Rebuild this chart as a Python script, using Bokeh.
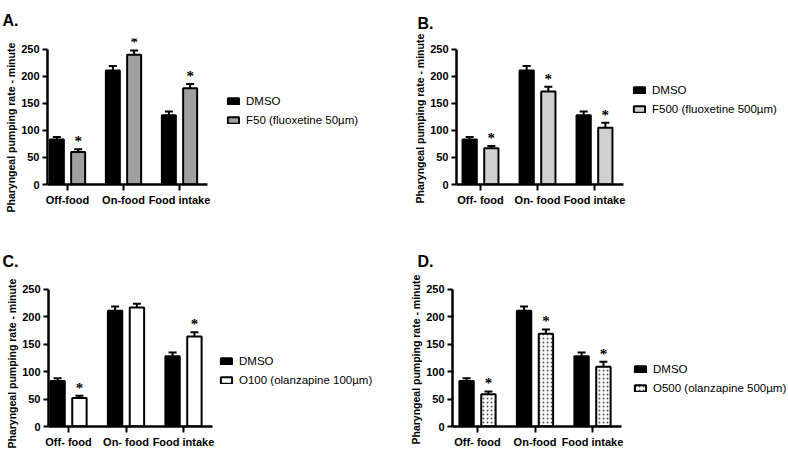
from bokeh.plotting import figure
from bokeh.models import (Range1d, FixedTicker, Whisker, ColumnDataSource,
                          Legend, LegendItem, TeeHead, LabelSet, Title)
from bokeh.transform import dodge
from bokeh.layouts import column, row
from bokeh.embed import file_html
from bokeh.resources import INLINE

# ---------------- data ----------------
y_ticks = [0, 50, 100, 150, 200, 250]
y_label = "Pharyngeal pumping rate - minute"
dmso_name = "DMSO"

dmso = [83, 211, 128]
dmso_err = [5, 8, 7]

cats_a = ["Off-food", "On-food", "Food intake"]
f50 = [60, 240, 178]
f50_err = [5, 8, 8]
sig_a = [True, True, True]
name_a = "F50 (fluoxetine 50µm)"

cats_b = ["Off- food", "On- food", "Food intake"]
f500 = [67, 172, 105]
f500_err = [4, 9, 9]
sig_b = [True, True, True]
name_b = "F500 (fluoxetine 500µm)"

cats_c = ["Off- food", "On- food", "Food intake"]
o100 = [52, 217, 164]
o100_err = [4, 7, 8]
sig_c = [True, False, True]
name_c = "O100 (olanzapine 100µm)"

cats_d = ["Off- food", "On-food", "Food intake"]
o500 = [59, 169, 109]
o500_err = [5, 8, 9]
sig_d = [True, True, True]
name_d = "O500 (olanzapine 500µm)"

FONT = "Liberation Sans"
W = 393


def panel(letter, cats, treat, treat_err, sig, treat_name, fill, hatch, lay):
    n = len(cats)
    fw = W - lay["left"]
    u = lay["u"]
    x0 = 0.5 - (lay["c0"] - lay["fl"]) / u
    x1 = x0 + fw / u
    p = figure(width=W, height=lay["h"],
               x_range=Range1d(x0, x1), y_range=Range1d(0, 270),
               output_backend="svg", toolbar_location=None,
               min_border_left=lay["left"], min_border_right=0,
               min_border_top=lay["top"], min_border_bottom=lay["bottom"])
    xc = [i + 0.5 for i in range(n)]
    t_up = [v + e for v, e in zip(treat, treat_err)]
    src = ColumnDataSource(dict(
        x=xc,
        d=dmso, d_up=[v + e for v, e in zip(dmso, dmso_err)],
        t=treat, t_up=t_up,
    ))
    star_src = ColumnDataSource(dict(
        x=[c for c, s in zip(xc, sig) if s],
        y=[v for v, s in zip(t_up, sig) if s],
        txt=["*" for s in sig if s],
    ))
    xd = dodge("x", -0.19)
    xt = dodge("x", 0.19)
    r1 = p.vbar(x=xd, top="d", width=0.25, source=src, fill_color="black",
                line_color="black", line_width=2)
    kw = {}
    if hatch:
        kw = dict(hatch_pattern=hatch, hatch_color="#555555", hatch_scale=4, hatch_weight=1)
    r2 = p.vbar(x=xt, top="t", width=0.25, source=src, fill_color=fill,
                line_color="black", line_width=2, **kw)
    for base, lo, up in ((xd, "d", "d_up"), (xt, "t", "t_up")):
        w = Whisker(source=src, base=base, lower=lo, upper=up, lower_head=None,
                    upper_head=TeeHead(size=8, line_width=2, line_color="black"),
                    line_width=2, line_color="black")
        p.add_layout(w)
    stars = LabelSet(x=dodge("x", 0.19), y="y", text="txt", source=star_src,
                     text_align="center", text_baseline="alphabetic", y_offset=3,
                     text_font_size="15px", text_font_style="bold",
                     text_font=FONT, text_color="black")
    p.add_layout(stars)

    p.xgrid.visible = False
    p.ygrid.visible = False
    p.outline_line_color = None

    xa = p.xaxis[0]
    xa.ticker = FixedTicker(ticks=xc)
    xa.major_label_overrides = {x: c for x, c in zip(xc, cats)}
    xa.bounds = (x0, n)
    xa.minor_tick_in = 0
    xa.minor_tick_out = 0
    xa.axis_label_standoff = 0

    ya = p.yaxis[0]
    ya.ticker = FixedTicker(ticks=y_ticks)
    ya.bounds = (0, 250)
    ya.minor_tick_in = 0
    ya.minor_tick_out = 0
    ya.axis_label_standoff = 0

    for ax in (xa, ya):
        ax.axis_line_width = 2.5
        ax.axis_line_color = "black"
        ax.major_tick_line_width = 2
        ax.major_tick_line_color = "black"
        ax.major_tick_in = 0
        ax.major_tick_out = 5
        ax.major_label_text_font = FONT
        ax.major_label_text_font_size = "11px"
        ax.major_label_text_font_style = "bold"
        ax.major_label_text_color = "black"
        ax.major_label_text_line_height = 1.0
        ax.major_label_standoff = 3
    xa.major_tick_out = 6

    ylab = Title(text=y_label, align="left", offset=lay["yoff"], standoff=3,
                 text_font=FONT, text_font_size="10.5px", text_font_style="bold",
                 text_color="black")
    p.add_layout(ylab, "left")

    legend = Legend(items=[LegendItem(label=dmso_name, renderers=[r1]),
                           LegendItem(label=treat_name, renderers=[r2])],
                    location=(lay["lx"], lay["ly"]),
                    padding=0, margin=0, spacing=3,
                    glyph_width=14, glyph_height=8, label_height=16,
                    label_standoff=6,
                    label_text_font=FONT, label_text_font_size="11.5px",
                    label_text_color="black",
                    border_line_alpha=0, background_fill_alpha=0)
    p.add_layout(legend)

    p.title.text = letter
    p.title.text_font = FONT
    p.title.text_font_size = "16px"
    p.title.text_font_style = "bold"
    p.title.text_color = "black"
    p.title.align = "left"
    p.title.offset = lay["toff"]
    p.title.standoff = lay["tstand"]
    return p


pa = panel("A.", cats_a, f50, f50_err, sig_a, name_a, "#a0a0a0", None,
           dict(h=224, left=47, top=38, bottom=40, u=56, c0=67, fl=47,
                lx=179, ly=56, toff=-45, tstand=19, yoff=-28))
pb = panel("B.", cats_b, f500, f500_err, sig_b, name_b, "#d0d0d0", None,
           dict(h=224, left=63, top=33, bottom=40, u=57, c0=480, fl=456,
                lx=176, ly=67, toff=-39, tstand=14, yoff=-19))
pc = panel("C.", cats_c, o100, o100_err, sig_c, name_c, "white", None,
           dict(h=226, left=48, top=54, bottom=0, u=57.5, c0=68, fl=48,
                lx=171, ly=38, toff=-46, tstand=17, yoff=-22))
pd_ = panel("D.", cats_d, o500, o500_err, sig_d, name_d, "white", ".",
            dict(h=226, left=59, top=54, bottom=0, u=57.5, c0=477, fl=452,
                 lx=181, ly=30, toff=-35, tstand=17, yoff=-18))

layout = column(row(pa, pb), row(pc, pd_))
open("out.html", "w").write(file_html(layout, INLINE))
